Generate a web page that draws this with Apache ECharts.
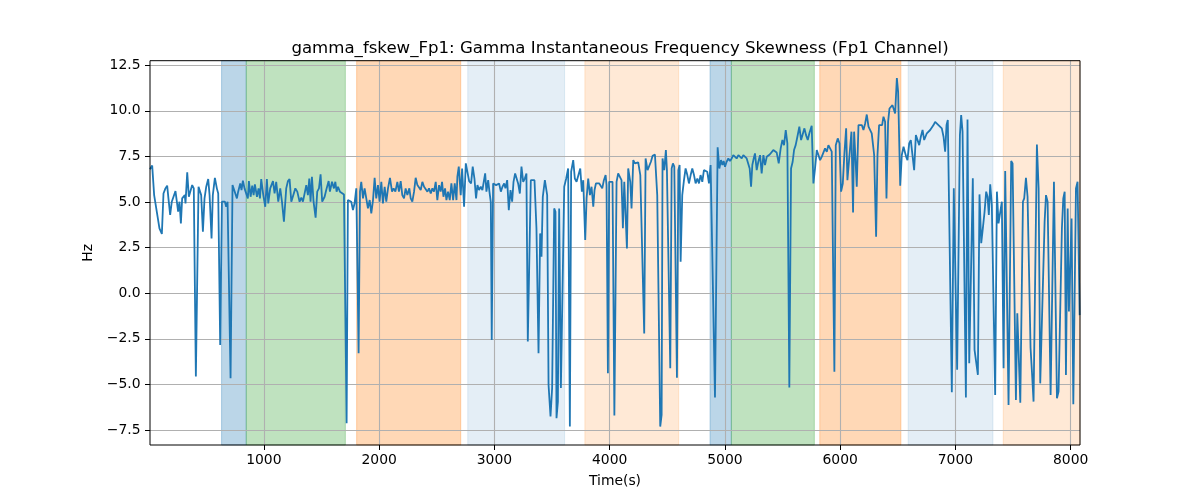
<!DOCTYPE html>
<html><head><meta charset="utf-8">
<script src="https://cdn.jsdelivr.net/npm/echarts@6/dist/echarts.min.js"></script>
<style>html,body{margin:0;padding:0;background:#fff}#c{width:1200px;height:500px}</style>
</head><body><div id="c"></div>
<script>
// [time (s), Hz] samples, split by region
const segA = [[12,6.8],[31,7.0],[48,5.38],[65,5.35],[94,3.56],[115,3.25],[129,5.47],[146,5.75],[161,5.9],[172,5.2],[187,4.29],[201,5.02],[216,5.29],[233,5.6],[245,5.02],[256,4.47],[268,5.02],[280,3.83],[291,5.2],[303,5.29],[314,5.38],[320,4.93],[335,6.63],[349,5.29],[361,5.2],[378,5.93],[392,5.75],[410,-4.57],[433,5.84],[456,5.38],[471,3.37],[485,5.2],[500,5.84],[517,6.26],[529,5.38],[546,3.0],[557,5.38],[575,6.33],[592,5.75],[604,5.47],[621,-2.84],[636,5.02],[650,4.93],[662,5.02],[673,4.74],[685,5.02],[696,5.02],[711,-4.66],[728,5.93],[740,6.02],[766,5.2],[777,5.57],[795,6.02],[806,5.66],[818,6.17],[832,5.75],[847,5.79],[861,5.2],[870,6.15],[885,5.29],[899,5.9],[911,5.38],[922,5.97],[940,5.29],[954,5.75],[966,5.2],[977,6.26],[995,5.38],[1012,4.74],[1026,6.26],[1038,4.93],[1055,5.75],[1079,6.15],[1093,5.47],[1107,6.11],[1125,5.02],[1142,5.75],[1157,5.02],[1174,3.92],[1194,5.75],[1209,6.15],[1223,6.26],[1238,5.02],[1252,5.02],[1273,5.75],[1290,5.57],[1310,5.02],[1325,5.24],[1339,5.02]];
const segB = [[1368,5.93],[1382,5.38],[1394,6.29],[1405,5.02],[1417,6.39],[1431,5.02],[1449,4.14],[1463,5.57],[1478,5.75],[1492,6.52],[1506,5.02],[1527,5.29],[1541,5.66],[1562,6.15],[1573,5.57],[1591,6.11],[1608,5.75],[1620,6.11],[1631,5.57],[1643,5.84],[1660,5.57],[1677,5.47],[1695,5.42],[1718,-7.13],[1729,5.11],[1744,5.2],[1758,5.02],[1773,4.56],[1787,4.93],[1802,5.75],[1810,5.79],[1822,-3.29],[1834,5.57],[1845,6.11],[1860,5.2],[1874,5.75],[1889,5.75],[1903,4.65],[1918,5.11],[1932,4.38],[1947,5.11],[1961,6.33],[1975,5.2],[1990,5.93],[2004,5.02],[2019,6.11],[2033,4.93],[2048,5.84],[2062,5.02],[2077,5.75],[2094,6.33],[2112,5.57],[2126,5.75],[2141,5.57],[2158,6.11],[2172,5.57],[2187,6.15],[2201,5.38],[2216,5.2],[2230,5.75],[2245,5.38],[2262,5.75],[2274,5.2],[2288,5.02],[2303,5.57],[2317,6.33],[2332,5.93],[2346,6.02],[2361,5.66],[2375,6.11],[2390,5.84],[2404,5.75],[2419,5.57],[2433,5.75],[2448,5.47],[2462,5.75],[2476,5.57],[2491,6.11],[2505,5.11],[2520,5.93],[2534,5.57],[2546,6.11],[2558,5.29],[2572,5.75],[2584,5.11],[2598,5.57],[2613,5.11],[2627,6.02],[2642,5.11],[2656,6.02],[2671,5.11],[2679,6.39],[2691,6.94]];
const segC = [[2708,5.38],[2720,6.84],[2737,4.74],[2752,7.12],[2763,6.75],[2781,6.15],[2798,6.02],[2812,6.94],[2827,6.29],[2841,5.2],[2853,5.93],[2867,5.66],[2882,5.84],[2896,5.66],[2908,5.75],[2920,6.57],[2931,5.57],[2946,6.2],[2957,5.57],[2969,5.0],[2977,-2.56],[2989,6.02],[3001,5.93],[3015,5.93],[3027,5.84],[3041,6.02],[3056,5.57],[3070,5.84],[3085,6.02],[3096,5.75],[3111,6.2],[3125,4.56],[3140,5.66],[3154,5.02],[3166,6.11],[3180,6.57],[3192,6.66],[3206,6.02],[3221,5.47],[3235,6.94],[3250,6.11],[3264,6.29],[3278,6.57],[3290,-2.65],[3305,-2.56],[3316,6.2],[3331,6.26],[3348,6.2],[3365,3.56],[3383,-3.29],[3397,3.28],[3409,2.0],[3420,5.29],[3438,6.2],[3449,6.29],[3458,5.38],[3470,-5.03],[3487,-6.76],[3501,-5.2],[3519,4.65],[3530,4.47],[3539,-6.85],[3551,-5.94],[3562,4.65],[3577,-5.2],[3594,-5.29],[3606,5.84],[3623,6.29],[3640,6.84],[3655,-7.31],[3666,6.66],[3684,7.3],[3698,6.29],[3713,6.11],[3730,6.11],[3745,6.84],[3759,5.57],[3771,6.2],[3788,2.92],[3800,5.2],[3814,6.29],[3829,5.38],[3843,5.84],[3858,4.74],[3869,5.66],[3881,6.02],[3895,6.11],[3910,6.02],[3921,5.93],[3936,5.75],[3950,6.2],[3965,6.48],[3973,5.93],[3985,-4.39],[3996,6.11],[4011,6.11],[4025,6.11],[4041,-6.7]];
const segD = [[4060,6.11],[4074,6.57],[4089,6.66],[4103,6.2],[4115,3.56],[4127,6.11],[4141,6.2],[4150,2.46],[4161,6.84],[4179,6.11],[4190,4.65],[4205,7.3],[4219,7.12],[4234,7.12],[4248,7.18],[4266,6.48],[4300,-2.2],[4312,7.39],[4329,6.75],[4344,6.84],[4358,7.21],[4373,7.54],[4393,7.61],[4413,5.38],[4439,-7.31],[4451,-6.67],[4459,7.39],[4474,6.75],[4488,7.85],[4497,6.75],[4509,6.84],[4526,-4.11],[4538,6.84],[4549,7.12],[4561,6.94],[4584,-4.63],[4596,6.75],[4607,7.03],[4616,1.73],[4630,5.38],[4645,6.2],[4659,6.84],[4674,6.48],[4688,6.02],[4703,6.48],[4717,6.84],[4732,6.48],[4746,6.02],[4761,6.29],[4775,6.02],[4789,6.48],[4804,6.11],[4818,6.75],[4833,6.75],[4847,6.66],[4862,6.02],[4876,7.03],[4891,7.12],[4914,-5.72],[4937,8.0],[4952,6.84],[4966,7.3],[4978,7.03],[4989,7.25],[5001,6.94],[5015,7.21],[5030,7.39],[5044,7.25],[5059,7.39],[5073,7.57],[5088,7.48],[5102,7.39],[5117,7.57],[5131,7.67],[5146,7.39],[5160,7.57],[5175,7.67],[5189,7.39],[5204,7.48],[5215,6.84],[5227,5.84],[5238,7.03],[5250,7.39],[5261,7.67],[5276,6.75],[5290,7.21],[5305,7.57],[5319,6.57],[5334,7.57],[5348,7.03],[5363,7.48],[5377,7.39],[5389,7.61]];
const segE = [[5406,7.66],[5420,7.85],[5435,7.76],[5449,7.72],[5467,7.12],[5484,7.94],[5499,8.4],[5513,8.12],[5528,8.95],[5542,8.22],[5559,-5.17],[5574,6.84],[5588,7.21],[5600,7.85],[5614,8.12],[5629,8.58],[5646,9.13],[5661,8.4],[5675,8.49],[5690,9.04],[5704,8.67],[5719,8.4],[5733,8.77],[5753,9.18],[5768,6.02],[5782,6.84],[5797,7.85],[5811,7.76],[5826,7.3],[5840,7.48],[5855,7.48],[5869,7.94],[5884,7.76],[5898,8.12],[5913,8.03],[5927,7.76],[5950,-4.3],[5962,8.12],[5979,8.49],[5994,8.22],[6008,5.57],[6023,6.02],[6037,7.67],[6052,9.04],[6063,6.2],[6075,6.29],[6098,8.86],[6112,4.43],[6121,8.86],[6133,7.39],[6144,5.84],[6159,9.22],[6173,9.31],[6188,9.22],[6202,8.95],[6217,9.31],[6231,9.8],[6246,9.13],[6260,9.22],[6274,8.77],[6295,7.58],[6312,3.1],[6324,7.58],[6338,9.22],[6353,9.13],[6364,9.22],[6376,9.68],[6390,9.4],[6402,5.2],[6416,9.4],[6428,10.13],[6440,10.22],[6454,10.31],[6466,10.22],[6477,9.86],[6492,11.8],[6503,11.04],[6521,5.9],[6535,7.58],[6550,8.03],[6561,7.76],[6573,7.48],[6584,7.3],[6599,8.22],[6613,8.4],[6628,8.4],[6642,6.75],[6657,8.67],[6671,8.77],[6686,8.12],[6700,8.58],[6715,8.95],[6729,8.4]];
const segF = [[6752,8.77],[6766,8.67],[6781,8.95],[6795,9.04],[6810,9.22],[6824,9.4],[6839,9.35],[6853,9.22],[6868,9.18],[6882,9.04],[6897,8.58],[6911,7.76],[6923,9.22],[6934,9.5],[6943,9.4],[6969,-5.43],[6986,5.75],[7015,-4.2],[7039,8.67],[7050,9.77],[7062,8.86],[7091,-5.72],[7105,9.53],[7120,-3.84],[7151,6.3],[7166,-3.1],[7180,-3.19],[7195,-4.48],[7209,5.42],[7224,2.74],[7238,3.56],[7253,4.47],[7267,5.57],[7279,5.29],[7290,4.29],[7302,5.97],[7316,4.84],[7345,-5.58],[7360,5.57],[7374,3.83],[7389,3.92],[7403,5.02],[7418,-4.11],[7432,6.7],[7461,-6.12],[7484,7.25],[7496,7.12],[7525,-5.85],[7537,-1.1],[7563,-6.0],[7574,-5.94],[7586,5.02],[7597,5.2],[7612,6.33],[7626,5.29],[7652,-3.0],[7664,-4.3],[7678,-5.94],[7707,8.16],[7722,5.75],[7736,-4.94],[7748,-4.94],[7774,3.92],[7786,5.38],[7800,5.02],[7826,-5.58],[7855,6.11],[7881,-5.76],[7895,-5.39],[7924,3.56],[7936,5.2],[7948,5.57],[7959,-4.48],[7974,4.65],[7985,-1.0],[7997,1.6],[8008,4.1],[8023,-6.09],[8046,5.75],[8060,6.11],[8078,-1.2]];

const xTicks = [1000,2000,3000,4000,5000,6000,7000,8000];
const yTicks = [-7.5,-5,-2.5,0,2.5,5,7.5,10,12.5];
const xRange = [12, 8081];
const yRange = [-8.32, 12.75];

// shaded periods [start, end] in seconds and their kind
const bandRanges = [[633,847],[847,1707],[1805,2708],[2769,3609],[3785,4599],[4871,5056],[5056,5776],[5823,6527],[6590,7326],[7415,8081]];
const bandKinds = ['blue','green','orange','blueLight','orangeLight','blue','green','orange','blueLight','orangeLight'];

const bandFill = {
  blue: 'rgba(31,119,180,0.3)',
  green: 'rgba(44,160,44,0.3)',
  orange: 'rgba(255,127,14,0.3)',
  blueLight: 'rgba(31,119,180,0.12)',
  orangeLight: 'rgba(255,127,14,0.17)'
};

const lineData = [].concat(segA, segB, segC, segD, segE, segF);
const areas = bandRanges.map((r, i) => [
  { xAxis: r[0], itemStyle: { color: bandFill[bandKinds[i]], borderColor: bandFill[bandKinds[i]], borderWidth: 1 } },
  { xAxis: r[1] }
]);

const FONT = 'DejaVu Sans';
const chart = echarts.init(document.getElementById('c'), null, { renderer: 'canvas' });
chart.setOption({
  animation: false,
  backgroundColor: '#fff',
  textStyle: { fontFamily: FONT },
  title: {
    text: 'gamma_fskew_Fp1: Gamma Instantaneous Frequency Skewness (Fp1 Channel)',
    left: 615, top: 35, textAlign: 'center',
    textStyle: { fontSize: 16.6, fontWeight: 'normal', color: '#000', fontFamily: FONT }
  },
  grid: { left: 150, right: 120, top: 60.7, bottom: 55, show: true, borderColor: '#000', borderWidth: 1, backgroundColor: 'transparent', z: 5 },
  xAxis: {
    type: 'value', min: xRange[0], max: xRange[1], z: 2,
    name: 'Time(s)', nameLocation: 'middle', nameGap: 29,
    nameTextStyle: { fontSize: 13.9, color: '#000', fontFamily: FONT },
    axisLine: { show: false, onZero: false },
    axisTick: { show: true, length: 5, customValues: xTicks, lineStyle: { color: '#000', width: 1 } },
    axisLabel: { customValues: xTicks, margin: 8, fontSize: 13.9, color: '#000', fontFamily: FONT, formatter: v => String(v) },
    splitLine: { show: true, lineStyle: { color: '#b0b0b0', width: 1.1 } }
  },
  yAxis: {
    type: 'value', min: yRange[0], max: yRange[1], z: 2,
    name: 'Hz', nameLocation: 'middle', nameGap: 48, nameRotate: 90,
    nameTextStyle: { fontSize: 13.9, color: '#000', fontFamily: FONT },
    axisLine: { show: false, onZero: false },
    axisTick: { show: true, length: 5, customValues: yTicks, lineStyle: { color: '#000', width: 1 } },
    axisLabel: {
      customValues: yTicks, margin: 9.5, fontSize: 13.9, color: '#000', fontFamily: FONT,
      formatter: v => (v < 0 ? '\u2212' : '') + Math.abs(v).toFixed(1)
    },
    splitLine: { show: true, lineStyle: { color: '#b0b0b0', width: 1.1 } }
  },
  series: [{
    type: 'line', z: 3, data: lineData, showSymbol: false, symbol: 'none',
    lineStyle: { color: '#1f77b4', width: 1.8 },
    itemStyle: { color: '#1f77b4' },
    markArea: { silent: true, z: 1, data: areas }
  }]
});
</script></body></html>
